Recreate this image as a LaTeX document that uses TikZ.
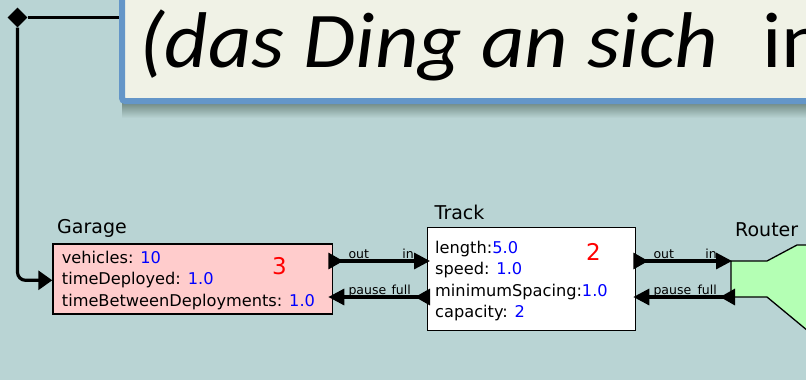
\documentclass[tikz,border=0pt]{standalone}
\usepackage{fontspec}
\setmainfont{DejaVu Sans}
\newfontfamily\bannerfont[FakeStretch=1.07]{Carlito}
\usetikzlibrary{positioning,shapes.geometric,arrows.meta}

\definecolor{canvasbg}{RGB}{185,212,212}
\definecolor{bannerfill}{RGB}{240,242,230}
\definecolor{bannerline}{RGB}{100,150,200}
\definecolor{shadowdark}{RGB}{105,130,122}
\definecolor{garagefill}{RGB}{255,204,204}
\definecolor{routerfill}{RGB}{180,255,180}

\tikzset{
  actor/.style={draw=black,line width=1.3pt,rectangle,inner sep=0pt,anchor=north west},
  actorname/.style={font=\fontsize{19}{23}\selectfont,inner sep=0pt,anchor=base west},
  attrs/.style={font=\fontsize{16.2}{21.5}\selectfont,align=left,inner sep=0pt,anchor=north west},
  portname/.style={font=\fontsize{12.5}{15}\selectfont,inner sep=0pt},
  count/.style={text=red,font=\fontsize{23}{27}\selectfont,inner sep=0pt,anchor=base west},
  wire/.style={line width=3.2pt},
  link/.style={wire,{Triangle[reversed,length=15pt,width=16pt]}-{Triangle[length=16pt,width=16pt]}},
  vertex/.style={diamond,fill=black,inner sep=0pt,minimum size=20pt},
}
\newcommand{\val}[1]{\textcolor{blue}{#1}}

\begin{document}
\begin{tikzpicture}[x=1pt,y=-1pt]
  \useasboundingbox (0,0) rectangle (806,380);
  \fill[canvasbg] (0,0) rectangle (806,380);
  \clip (0,0) rectangle (806,380);

  % banner
  \shade[top color=shadowdark,bottom color=canvasbg] (122,101) rectangle (806,118);
  \path (119,-30) node[draw=bannerline,fill=bannerfill,line width=6pt,rounded corners=3pt,
    rectangle,anchor=north west,minimum width=721pt,minimum height=128pt] (banner) {};
  \node[inner sep=0pt,anchor=base west,font=\bannerfont\fontsize{79}{90}\selectfont] (motto)
    at (139,67) {\itshape(das Ding an sich\upshape\hspace{44pt}in};

  % actors
  \path (52.3,243.3) node[actor,fill=garagefill,minimum width=279.4pt,minimum height=70pt] (garage) {};
  \node[attrs,below right=4.9pt and 9.4pt of garage.north west] (garage-attrs)
    {\strut vehicles: \val{10}\\timeDeployed: \val{1.0}\\timeBetweenDeployments: \val{1.0}};
  \node[actorname] (garage-name) at (57,233.3) {Garage};
  \node[count] (garage-count) at (272,274) {3};

  \path (426.7,226.7) node[actor,fill=white,minimum width=208.3pt,minimum height=103.3pt] (track) {};
  \node[attrs,below right=11.5pt and 8.3pt of track.north west] (track-attrs)
    {\strut length:\val{5.0}\\speed: \val{1.0}\\minimumSpacing:\val{1.0}\\capacity: \val{2}};
  \node[actorname] (track-name) at (434.5,219.3) {Track};
  \node[count] (track-count) at (586,260) {2};

  \coordinate (router) at (731,261);
  \draw[fill=routerfill,line width=1.3pt] (router) -- ++(36,0) -- ++(30,-16) -- ++(40,0)
    -- ++(0,110) -- (767,297) -- (731,297) -- cycle;
  \node[actorname] (router-name) at (735,236) {Router};

  % ports
  \coordinate (garage-trig) at ([shift={(0,37)}]garage.north west);
  \coordinate (garage-out) at ([shift={(-4.7,17.7)}]garage.north east);
  \coordinate (garage-pause) at ([shift={(-4.7,53.7)}]garage.north east);
  \coordinate (track-in) at ([shift={(3.3,34.3)}]track.north west);
  \coordinate (track-full) at ([shift={(3.3,70.3)}]track.north west);
  \coordinate (track-out) at ([shift={(-3,34.3)}]track.north east);
  \coordinate (track-pause) at ([shift={(-3,70.3)}]track.north east);
  \coordinate (router-in) at ([shift={(1,0)}]router);
  \coordinate (router-full) at ([shift={(4,36)}]router);

  % relation
  \path (17.5,17.5) node[vertex] (relation) {};
  \draw[wire] (relation) -- (relation -| banner.west);
  \draw[wire,rounded corners=8pt,-{Triangle[length=14pt,width=19pt]}] (relation) |- (garage-trig);

  % links
  \draw[link] (garage-out) -- (track-in);
  \draw[link] (track-full) -- (garage-pause);
  \draw[link] (track-out) -- (router-in);
  \draw[link] (router-full) -- (track-pause);

  \node[portname,anchor=base west] at ([shift={(20,-3)}]garage-out) {out};
  \node[portname,anchor=base east] at ([shift={(-16,-3)}]track-in) {in};
  \node[portname,anchor=base west] at ([shift={(20,-3)}]garage-pause) {pause};
  \node[portname,anchor=base east] at ([shift={(-19,-3)}]track-full) {full};
  \node[portname,anchor=base west] at ([shift={(20,-3)}]track-out) {out};
  \node[portname,anchor=base east] at ([shift={(-15,-3)}]router-in) {in};
  \node[portname,anchor=base west] at ([shift={(20,-3)}]track-pause) {pause};
  \node[portname,anchor=base east] at ([shift={(-18,-3)}]router-full) {full};
\end{tikzpicture}
\end{document}
